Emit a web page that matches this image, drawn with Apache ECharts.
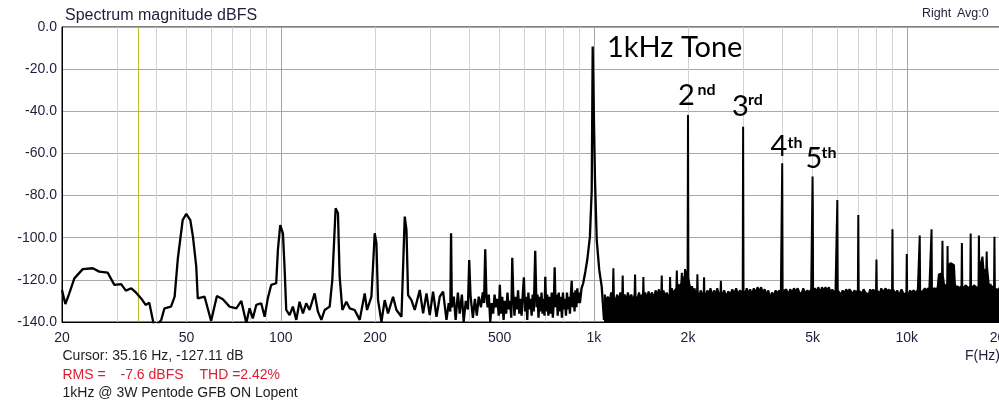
<!DOCTYPE html>
<html><head><meta charset="utf-8">
<script src="https://cdn.jsdelivr.net/npm/echarts@6/dist/echarts.min.js"></script>
<style>html,body{margin:0;padding:0;background:#fff}#c{width:999px;height:401px}</style>
</head><body><div id="c"></div>
<script>
// ---- data ----
const xTickValues = [20, 50, 100, 200, 500, 1000, 2000, 5000, 10000, 20000];
const minorGridFreqs = [30, 40, 50, 60, 70, 80, 90, 200, 300, 400, 500, 600, 700, 800, 900, 2000, 3000, 4000, 5000, 6000, 7000, 8000, 9000];
const majorGridFreqs = [100, 1000, 10000];
const cursorFreq = 35.16;

// 20 Hz .. ~1.08 kHz (line)
const lowSpectrum = [
[20,-124.8],[20.5,-131.5],[21.1,-126.4],[21.9,-119.3],[23.3,-114.9],[25.1,-114.5],[26.3,-116.1],[28.0,-116.6],
[29.4,-122.4],[30.9,-122],[32.0,-125.1],[33.3,-124],[34.5,-126.1],[35.8,-128.8],[37.0,-131.9],[38.0,-130.8],
[39.5,-143],[41.5,-139],[42.5,-133.5],[44.6,-132.7],[45.8,-128],[46.9,-109.8],[48.6,-91.6],[49.9,-88.7],
[51.4,-91.6],[52.4,-99.5],[53.7,-113.7],[54.3,-128.8],[57.1,-128],[59.9,-139.5],[62.5,-127.7],[65.3,-129.2],
[68.6,-132.7],[72.1,-133.5],[74.8,-130],[77.6,-140.5],[79.5,-133.5],[81.4,-138.3],[83.5,-131.9],[86.6,-131.1],
[88.8,-137.5],[90.9,-128.8],[93.2,-122.4],[96.7,-121.6],[97.9,-105.8],[99.6,-94],[101.6,-97.9],[102.8,-113.8],
[104.1,-134.3],[106.7,-136.7],[109.3,-132.7],[112.1,-139],[114.8,-130.4],[117.7,-135.9],[120.6,-131.1],[123.6,-134.3],
[128.3,-126.4],[131.4,-135.1],[134.8,-139],[138.1,-134.3],[143.3,-132.7],[146.1,-120],[149.7,-86],[152.3,-88.4],
[154.2,-118.5],[157.3,-134.3],[162.0,-130.4],[166.0,-133.5],[172.2,-134.3],[178.7,-139],[185.4,-126.4],[188.6,-134.3],
[194.8,-128],[199.6,-97.9],[202.1,-102.7],[204.5,-129.6],[209.7,-139.9],[214.8,-129.6],[220.1,-135.9],[228.4,-128],
[234.2,-134.3],[243.0,-137.5],[248.9,-90],[252.1,-96.3],[255.1,-127.2],[261.5,-129.6],[267.9,-134.3],[278.0,-124.8],
[284.9,-135.9],[292.1,-126.4],[299.2,-136.7],[306.6,-125.6],[314.4,-137.5],[322.1,-128],[330.0,-125.6],[338.4,-139],
[344,-131],[348,-135],[350,-97.9],[352,-133],[357,-128],[362,-139],[368,-126],[373,-136],[379,-127],[384,-140],
[390,-130],[396,-134],[400,-110.6],[404,-128],[411,-138],[417,-129],[423,-137],[429,-128],[436,-133],[442,-126],
[446,-131],[450,-105.5],[454,-128],[458,-133],[462,-127],[467,-140],[472,-131],[477,-136],[482,-127],[487,-133],
[492,-129],[497,-137],[501,-122.4],[505,-136],[510,-128],[515,-139],[520,-130],[525,-136],[530,-126],[535,-134],
[540,-130],[545,-138],[549,-109.5],[553,-127],[558,-137],[563,-128],[568,-134],[573,-125],[578,-136],[583,-129],
[588,-137],[593,-127],[598,-118.8],[603,-135],[608,-128],[613,-139],[618,-126],[623,-134],[628,-129],[633,-137],
[638,-127],[643,-135],[650,-106.2],[656,-133],[661,-127],[666,-138],[671,-128],[676,-135],[681,-126],[686,-136],
[691,-129],[696,-137],[700,-118.5],[705,-135],[710,-127],[716,-137],[722,-128],[728,-136],[734,-126],[740,-138],
[746,-129],[750,-114],[755,-133],[761,-127],[767,-137],[773,-126],[779,-135],[785,-128],[791,-138],[797,-126],
[803,-134],[809,-129],[815,-137],[821,-126],[827,-134],[833,-128],[839,-136],[845,-127],[850,-120.4],[856,-133],
[862,-126],[868,-135],[874,-125],[880,-133],[886,-124],[892,-131],[898,-126],[903,-131],[914,-124],[925,-121.6],
[940,-116],[953,-110.6],[972,-99.5],[985,-77.4],[992,-9.3],[1000,-8.5],[1009,-72.6],[1022,-101.1],[1041,-115.3],
[1060,-123.2],[1078,-139]
];

// ~1.08 kHz .. 20 kHz (dense noise floor, drawn filled) with harmonic / spurious lines
const highSpectrum = [
[1078,-139],[1084,-127],[1096,-130],[1110,-128],[1122,-131],[1136,-126],[1150,-129],[1155,-114.5],[1160,-128],
[1172,-131],[1186,-127],[1200,-130],[1215,-126],[1232,-129],[1237,-118],[1242,-129],[1255,-127],[1270,-130],
[1285,-126],[1300,-129],[1318,-127],[1335,-130],[1350,-127],[1355,-117.5],[1360,-128],[1378,-129],[1395,-126],
[1412,-129],[1428,-127],[1436,-128],[1440,-118.7],[1445,-128],[1460,-126],[1478,-129],[1496,-125.5],[1515,-128],
[1535,-126],[1555,-129],[1575,-125],[1595,-127],[1615,-124.5],[1632,-128],[1644,-126],[1649,-118],[1654,-127],
[1670,-125],[1690,-128],[1710,-126],[1730,-128],[1748,-127],[1753,-118.7],[1758,-126],[1775,-124],[1795,-127],
[1815,-125],[1836,-124],[1842,-115.6],[1848,-124],[1865,-122],[1885,-125],[1905,-121],[1911,-116.6],[1917,-121],
[1935,-120],[1950,-118],[1958,-114.9],[1966,-117],[1980,-116],[1994,-118],[2000,-41.8],[2006,-119],[2020,-122],
[2040,-125],[2060,-123],[2080,-127],[2100,-124],[2120,-128],[2138,-126],[2143,-117.4],[2149,-126],[2170,-128],
[2195,-125],[2220,-127],[2245,-126],[2251,-118.8],[2257,-126],[2280,-128],[2305,-125],[2330,-127],[2360,-124],
[2390,-128],[2420,-125],[2450,-127],[2480,-124],[2510,-127],[2540,-126],[2547,-120.4],[2554,-126],[2580,-127],
[2610,-125],[2650,-128],[2690,-125.5],[2730,-127],[2770,-124.5],[2810,-126.5],[2850,-124],[2890,-127],[2930,-125],
[2970,-126],[2991,-125],[3000,-47.3],[3009,-125],[3040,-127],[3080,-124],[3120,-126.5],[3160,-124.5],[3200,-127],
[3245,-124],[3290,-126],[3335,-123.5],[3380,-125.5],[3425,-123.5],[3470,-126],[3515,-124.5],[3560,-127],[3610,-125],
[3660,-128.5],[3710,-126],[3760,-127.5],[3810,-125],[3860,-126.5],[3910,-125],[3960,-126],[3988,-125.5],[4000,-64.7],
[4012,-125.5],[4060,-126],[4120,-124.5],[4180,-127],[4240,-124.5],[4300,-126],[4360,-124],[4420,-125.5],[4480,-124],
[4540,-126],[4600,-127],[4670,-124],[4740,-126.5],[4810,-125],[4880,-126],[4950,-124.5],[4985,-125],[5000,-71],
[5010,-84.5],[5020,-125],[5080,-124],[5150,-125.5],[5220,-123.5],[5290,-126],[5360,-123.5],[5430,-125],[5500,-123.5],
[5570,-125],[5640,-123.5],[5710,-126],[5780,-124.5],[5850,-126],[5920,-125],[5982,-125],[6000,-82.1],[6018,-125],
[6090,-125.5],[6160,-127],[6240,-125],[6320,-126.5],[6400,-124.5],[6480,-126],[6560,-124.5],[6640,-125.5],[6720,-127],
[6800,-125],[6880,-126],[6979,-125],[7000,-89.2],[7021,-125],[7100,-125],[7190,-126.5],[7280,-124.5],[7370,-126],
[7460,-125.5],[7550,-127],[7640,-124.5],[7730,-126],[7820,-124.5],[7900,-126],[7976,-125],[8000,-110.3],[8024,-125],
[8110,-125],[8200,-126.5],[8290,-124],[8380,-126],[8470,-125],[8560,-124],[8650,-126],[8740,-124.5],[8830,-125.5],
[8973,-124.5],[9000,-96],[9027,-124.5],[9120,-125],[9220,-126.5],[9320,-125],[9420,-127],[9520,-126],[9620,-124.5],
[9720,-126],[9820,-127],[9970,-126],[10000,-107.7],[10030,-126],[10130,-127],[10250,-125],[10370,-126.5],[10490,-125],
[10610,-124.5],[10730,-126],[10850,-124.5],[10967,-125],[11000,-99],[11033,-125],[11160,-126],[11290,-125],[11420,-124],
[11550,-125.5],[11680,-124],[11800,-125],[11964,-124.5],[12000,-96],[12036,-124.5],[12160,-125],[12290,-124],[12420,-125],
[12550,-123.5],[12660,-117.4],[12800,-117.4],[12900,-117],[12961,-118],[13000,-101.4],[13039,-118],[13150,-122],
[13280,-123],[13420,-122.5],[13460,-122],[13500,-103.9],[13540,-122],[13650,-113],[13800,-112],[14000,-112.5],
[14150,-113],[14250,-122],[14400,-124],[14550,-123],[14700,-124],[14850,-123.5],[14955,-123],[15000,-102.5],
[15045,-123],[15200,-124],[15400,-122.5],[15600,-123],[15800,-124],[15950,-123],[16000,-98],[16050,-123],[16200,-124],
[16400,-122.5],[16600,-123],[16800,-124],[16950,-123],[17000,-99],[17050,-116],[17250,-116],[17450,-109],[17520,-109],
[17600,-116],[17700,-116],[17950,-115],[18000,-106.6],[18050,-114],[18200,-114],[18300,-123],[18500,-122],[18700,-124],
[18900,-123],[19000,-124],[19060,-99.5],[19120,-124],[19300,-124],[19500,-125],[19700,-124],[19900,-125.5],[20000,-124.5]
];

// ---- chart ----
const FONT = "'Liberation Sans', Arial, sans-serif";
const ANN = "Lato, 'Open Sans', sans-serif";
const LABEL_COLOR = '#1e1e3a';
const chart = echarts.init(document.getElementById('c'), null, {renderer: 'canvas'});

const gridLines = [];
minorGridFreqs.forEach(f => gridLines.push({xAxis: f, lineStyle: {color: '#d2d2d2', width: 1, type: 'solid'}}));
majorGridFreqs.forEach(f => gridLines.push({xAxis: f, lineStyle: {color: '#a2a2a2', width: 1, type: 'solid'}}));
gridLines.push({xAxis: cursorFreq, lineStyle: {color: '#bcbc2a', width: 1, type: 'solid'}});

function txt(x, y, text, size, color, family, weight) {
  return {type: 'text', x: x, y: y, silent: true, z: 100,
    style: {text: text, fill: color, font: (weight || 'normal') + ' ' + size + 'px ' + family,
      align: 'left', verticalAlign: 'middle', textAlign: 'left', textVerticalAlign: 'middle'}};
}

chart.setOption({
  animation: false,
  backgroundColor: '#fff',
  grid: {left: 62, right: -2, top: 27, bottom: 79, show: true, borderColor: '#000', borderWidth: 1,
    backgroundColor: 'transparent', containLabel: false, outerBoundsMode: 'none'},
  xAxis: {
    type: 'log', logBase: 10, min: 20, max: 20000,
    axisLine: {show: true, onZero: false, lineStyle: {color: '#000', width: 1}},
    axisTick: {show: false},
    splitLine: {show: false},
    axisLabel: {customValues: xTickValues, color: LABEL_COLOR, fontSize: 14, fontFamily: FONT, margin: 9,
      formatter: v => v >= 1000 ? (v / 1000) + 'k' : String(v)}
  },
  yAxis: {
    type: 'value', min: -140, max: 0, interval: 20,
    axisLine: {show: true, lineStyle: {color: '#000', width: 1}},
    axisTick: {show: false},
    splitLine: {show: true, lineStyle: {color: '#a8a8a8', width: 1}},
    axisLabel: {color: LABEL_COLOR, fontSize: 14, fontFamily: FONT, margin: 5, formatter: v => v.toFixed(1)}
  },
  series: [
    {type: 'line', name: 'grid', data: [], z: 1, silent: true,
      markLine: {silent: true, symbol: ['none', 'none'], label: {show: false}, animation: false, data: gridLines}},
    {type: 'line', name: 'low', data: lowSpectrum, z: 5, symbol: 'none', showSymbol: false, smooth: false,
      lineStyle: {color: '#000', width: 2.3}, silent: true},
    {type: 'line', name: 'high', data: highSpectrum, z: 5, symbol: 'none', showSymbol: false, smooth: false,
      lineStyle: {color: '#000', width: 2}, areaStyle: {color: '#000', opacity: 1, origin: 'start'}, silent: true}
  ],
  graphic: [
    txt(65, 15.5, 'Spectrum magnitude dBFS', 16, LABEL_COLOR, FONT),
    txt(922, 14, 'Right', 12.5, LABEL_COLOR, FONT),
    txt(957, 14, 'Avg:0', 12.5, LABEL_COLOR, FONT),
    txt(965, 356, 'F(Hz)', 14, LABEL_COLOR, FONT),
    txt(62.5, 356.5, 'Cursor: 35.16 Hz, -127.11 dB', 14, '#1e1e1e', FONT),
    txt(62.5, 375.5, 'RMS =', 14, '#dc1e32', FONT),
    txt(120.5, 375.5, '-7.6 dBFS', 14, '#dc1e32', FONT),
    txt(199.5, 375.5, 'THD =2.42%', 14, '#dc1e32', FONT),
    txt(62.5, 393.5, '1kHz @ 3W Pentode GFB ON Lopent', 14, '#1e1e1e', FONT),
    txt(607, 47.5, '1kHz Tone', 29, '#000', ANN),
    txt(678, 95.2, '2', 29, '#000', ANN),
    txt(697.5, 89.5, 'nd', 16, '#000', ANN, 'bold'),
    txt(732, 107, '3', 29, '#000', ANN),
    txt(748, 99.5, 'rd', 16, '#000', ANN, 'bold'),
    txt(770.5, 147, '4', 29, '#000', ANN),
    txt(787.5, 142.7, 'th', 16, '#000', ANN, 'bold'),
    txt(805.5, 158.5, '5', 29, '#000', ANN),
    txt(821.5, 152.7, 'th', 16, '#000', ANN, 'bold')
  ]
});
</script>
</body></html>
